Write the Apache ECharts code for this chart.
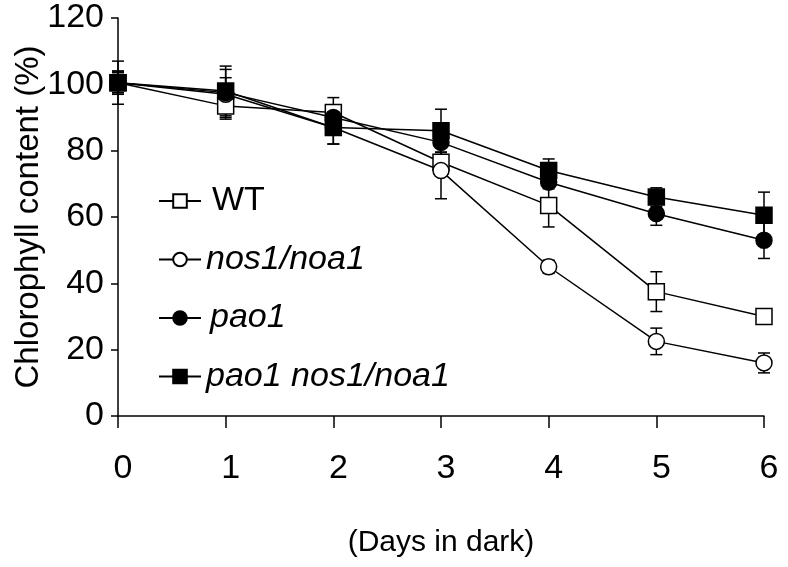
<!DOCTYPE html>
<html>
<head>
<meta charset="utf-8">
<script src="https://cdn.jsdelivr.net/npm/echarts@6/dist/echarts.min.js"></script>
<style>html,body{margin:0;padding:0;background:#fff;}#c{width:788px;height:567px;}</style>
</head>
<body>
<div id="c"></div>
<script>
const days = [0, 1, 2, 3, 4, 5, 6];
const yTicks = [0, 20, 40, 60, 80, 100, 120];
const seriesNames = ['WT', 'nos1/noa1', 'pao1', 'pao1 nos1/noa1'];
const wt = [100.5, 93.5, 91.5, 76.5, 63.5, 37.5, 30];
const nos1 = [100.5, 97, 87, 74, 45, 22.5, 16];
const pao1 = [100.5, 97.5, 90, 82.5, 70.5, 61, 53];
const paoNos = [100.5, 98, 87, 86, 74, 66, 60.5];
const wtErr = [6.5, 3.5, 4.5, 3, 6.5, 6, 2];
const nos1Err = [3.5, 7.5, 5, 8.5, 2, 4, 3];
const pao1Err = [3, 4.5, 2, 3, 2, 3.5, 5.5];
const paoNosErr = [3.5, 7.5, 5, 6.5, 3.5, 2.8, 7];

const FONT = "'Liberation Sans', Arial, sans-serif";
const values = [wt, nos1, pao1, paoNos];
const errs = [wtErr, nos1Err, pao1Err, paoNosErr];
const symbols = ['rect', 'circle', 'circle', 'rect'];
const fills = ['#ffffff', '#ffffff', '#000000', '#000000'];

const chart = echarts.init(document.getElementById('c'), null, {renderer: 'canvas'});

const series = [];
values.forEach((vals, si) => {
  series.push({
    type: 'custom',
    name: seriesNames[si] + ' err',
    z: 1,
    silent: true,
    data: days.map((d, i) => [d, vals[i], errs[si][i]]),
    encode: {x: 0, y: 1},
    renderItem: function (params, api) {
      const x = api.value(0), y = api.value(1), e = api.value(2);
      const top = api.coord([x, y + e]);
      const bot = api.coord([x, y - e]);
      const hw = 6;
      const st = {stroke: '#000', lineWidth: 1.5};
      return {
        type: 'group',
        children: [
          {type: 'line', shape: {x1: top[0], y1: top[1], x2: bot[0], y2: bot[1]}, style: st},
          {type: 'line', shape: {x1: top[0] - hw, y1: top[1], x2: top[0] + hw, y2: top[1]}, style: st},
          {type: 'line', shape: {x1: bot[0] - hw, y1: bot[1], x2: bot[0] + hw, y2: bot[1]}, style: st}
        ]
      };
    }
  });
});
values.forEach((vals, si) => {
  series.push({
    type: 'line',
    name: seriesNames[si],
    z: 3 + si,
    data: days.map((d, i) => [d, vals[i]]),
    symbol: symbols[si],
    symbolSize: 16,
    showAllSymbol: true,
    lineStyle: {color: '#000', width: 1.5},
    itemStyle: {color: fills[si], borderColor: '#000', borderWidth: 1.5},
    emphasis: {disabled: true}
  });
});

chart.setOption({
  animation: false,
  backgroundColor: '#fff',
  textStyle: {fontFamily: FONT, color: '#000'},
  grid: {left: 118, right: 24, top: 18, bottom: 151, containLabel: false, outerBoundsMode: 'none'},
  legend: {
    data: seriesNames,
    orient: 'vertical',
    left: 158,
    top: 184,
    padding: 0,
    itemWidth: 42,
    itemHeight: 17,
    itemGap: 24.5,
    selectedMode: false,
    textStyle: {
      fontFamily: FONT, fontSize: 34, color: '#000',
      rich: {
        n: {fontFamily: FONT, fontSize: 34, fontStyle: 'normal', color: '#000', lineHeight: 38, padding: [0, 0, 0, 6]},
        p: {fontFamily: FONT, fontSize: 34, fontStyle: 'italic', color: '#000', lineHeight: 38, padding: [0, 0, 0, 4]},
        i: {fontFamily: FONT, fontSize: 34, fontStyle: 'italic', color: '#000', lineHeight: 38}
      }
    },
    formatter: function (name) {
      if (name === 'WT') return '{n|' + name + '}';
      if (name === 'pao1') return '{p|' + name + '}';
      return '{i|' + name + '}';
    }
  },
  xAxis: {
    type: 'value',
    min: 0, max: 6, interval: 1,
    name: '(Days in dark)',
    nameLocation: 'middle',
    nameGap: 112,
    nameMoveOverlap: false,
    nameTextStyle: {fontFamily: FONT, fontSize: 30, color: '#000'},
    axisLine: {onZero: false, lineStyle: {color: '#000', width: 1.5}},
    axisTick: {show: true, length: 12, lineStyle: {color: '#000', width: 1.5}},
    axisLabel: {
      margin: 36, fontFamily: FONT, fontSize: 34, color: '#000', padding: [0, 0, 0, 10],
      formatter: function (v) { return days.indexOf(v) >= 0 ? String(v) : ''; }
    },
    splitLine: {show: false}
  },
  yAxis: {
    type: 'value',
    min: 0, max: 120, interval: 20,
    name: 'Chlorophyll content (%)',
    nameLocation: 'middle',
    nameGap: 73,
    nameRotate: 90,
    nameMoveOverlap: false,
    nameTextStyle: {fontFamily: FONT, fontSize: 33, color: '#000'},
    axisLine: {show: true, onZero: false, lineStyle: {color: '#000', width: 1.5}},
    axisTick: {show: true, length: 7, lineStyle: {color: '#000', width: 1.5}},
    axisLabel: {
      margin: 14, fontFamily: FONT, fontSize: 34, color: '#000',
      formatter: function (v) { return yTicks.indexOf(v) >= 0 ? String(v) : ''; }
    },
    splitLine: {show: false}
  },
  series: series
});
</script>
</body>
</html>
